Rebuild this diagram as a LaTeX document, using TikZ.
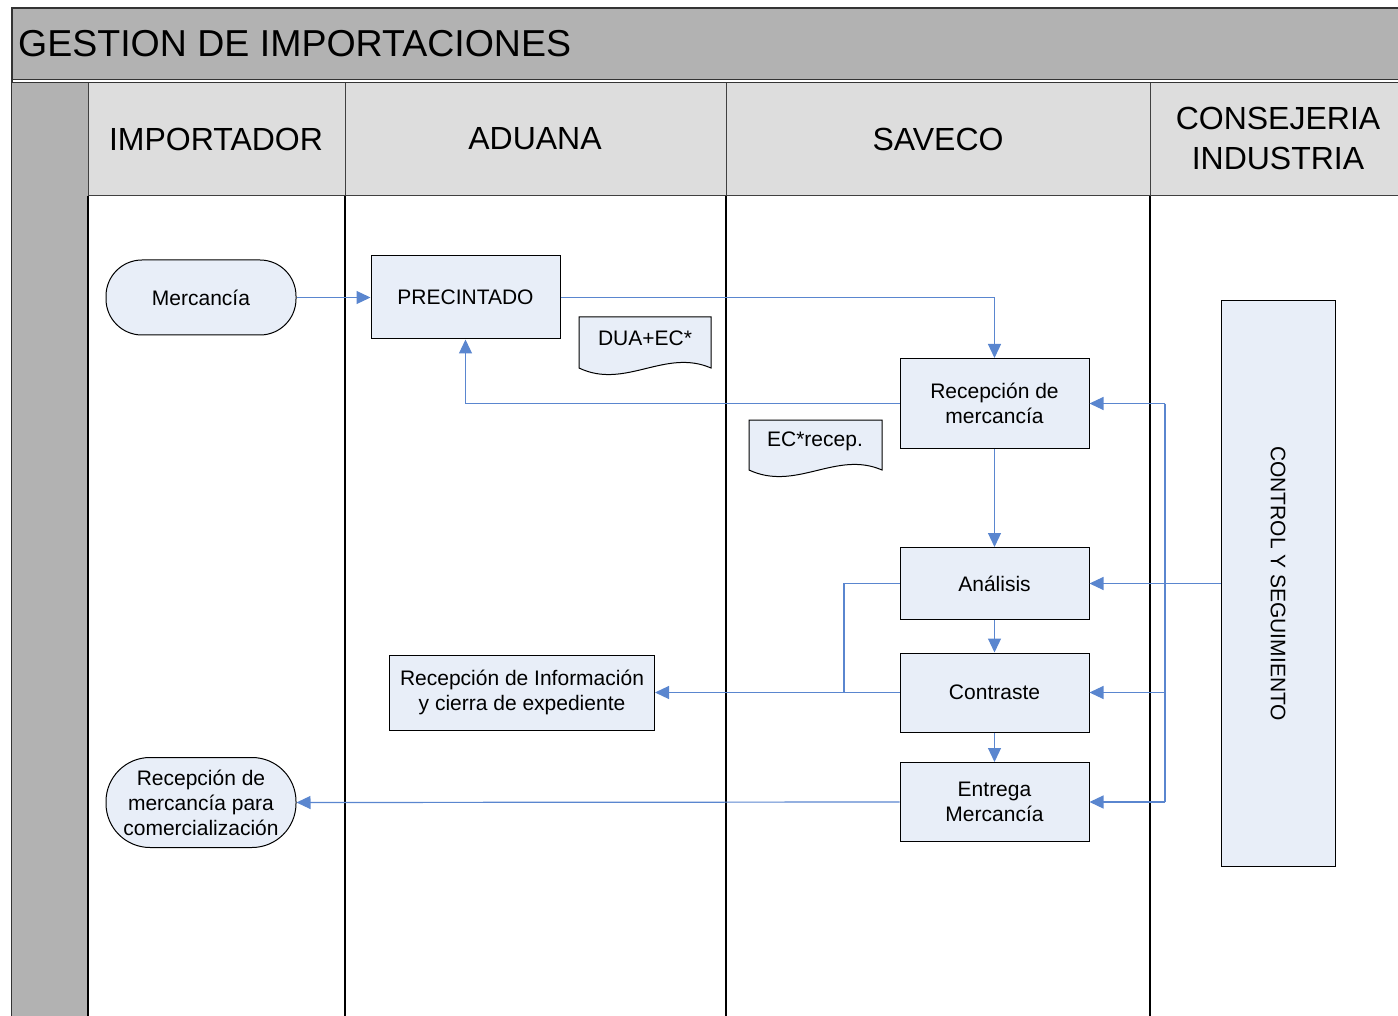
\documentclass[tikz,border=0pt]{standalone}
\usepackage{fontspec}
\setmainfont{Liberation Sans}
\usetikzlibrary{arrows.meta}
\definecolor{bandgray}{HTML}{B2B2B2}
\definecolor{headgray}{HTML}{DDDDDD}
\definecolor{boxfill}{HTML}{E8EEF8}
\definecolor{flow}{HTML}{5A86CF}
\tikzset{
  proc/.style={draw=black, fill=boxfill, line width=1pt, align=center,
    font=\fontsize{21}{25}\selectfont, inner sep=0pt},
  term/.style={proc, rounded corners=36pt},
  doctext/.style={align=center, font=\fontsize{21}{25}\selectfont, inner sep=0pt},
  docshape/.style={draw=black, fill=boxfill, line width=1pt},
  lane/.style={draw=black, line width=1.3pt},
  headtxt/.style={align=center, font=\fontsize{32}{40}\selectfont, inner sep=0pt},
  flowarrow/.style={draw=flow, line width=1.2pt, -{Triangle[length=14pt,width=13pt]}},
  flowplain/.style={draw=flow, line width=1.2pt},
}
\begin{document}
\begin{tikzpicture}[x=1pt,y=-1pt]
\useasboundingbox (0,0) rectangle (1398,1016);
\clip (0,0) rectangle (1398,1016);
% title band
\fill[bandgray] (12,8) rectangle (1410,80);
\draw[line width=1.2pt, black!80] (12,1030) -- (12,8) -- (1410,8);
\draw[line width=1pt, black!80] (12,80) -- (1410,80);
\draw[line width=1pt, black!80] (12,83) -- (1410,83);
\node[anchor=west, inner sep=0pt, font=\fontsize{37.5}{44}\selectfont] (title) at (18,44) {GESTION DE IMPORTACIONES};
% left gray strip and header
\fill[bandgray] (12,83) rectangle (88,1030);
\fill[headgray] (88,83) rectangle (1410,196);
\draw[line width=1pt, black!75] (88,196) -- (1410,196);
\foreach \xx in {88,345,726,1150} {
  \draw[line width=1pt, black!75] (\xx,83) -- (\xx,196);
  \draw[lane] (\xx,196) -- (\xx,1030);
}
\node[headtxt] (h1) at (216,139) {IMPORTADOR};
\node[headtxt] (h2) at (535,139) {ADUANA};
\node[headtxt] (h3) at (938,139) {SAVECO};
\node[headtxt] (h4) at (1278,138) {CONSEJERIA\\INDUSTRIA};

% nodes
\node[term, minimum width=190pt, minimum height=75pt] (merc) at (201,297.5) {Mercancía};
\node[proc, minimum width=189pt, minimum height=83pt] (prec) at (465.5,297.5) {PRECINTADO};
\node[proc, minimum width=189pt, minimum height=90pt] (recm) at (994.5,403.5) {Recepción de\\mercancía};
\node[proc, minimum width=189pt, minimum height=72pt] (anal) at (994.5,583.5) {Análisis};
\node[proc, minimum width=189pt, minimum height=79pt] (contr) at (994.5,692.5) {Contraste};
\node[proc, minimum width=189pt, minimum height=79pt] (entr) at (994.5,802) {Entrega\\Mercancía};
\node[proc, minimum width=265pt, minimum height=75pt] (info) at (522,692.5) {Recepción de Información\\y cierra de expediente};
\node[term, rounded corners=44pt, minimum width=190pt, minimum height=90pt] (term2) at (201,802.5) {Recepción de\\mercancía para\\comercialización};
\node[proc, minimum width=114pt, minimum height=565pt] (ctrl) at (1278,583.5) {};
\node[doctext, rotate=-90] (ctrltxt) at (ctrl.center) {CONTROL Y SEGUIMIENTO};

% documents
\path[docshape] (579,317) -- (711,317) -- (711,368) .. controls (665,348) and (625,390) .. (579,368) -- cycle;
\node[doctext] (dua) at (645,338) {DUA+EC*};
\path[docshape] (749,420) -- (882,420) -- (882,470) .. controls (836,450) and (796,492) .. (749,470) -- cycle;
\node[doctext] (ecr) at (815,441) {EC*recep.};

% connectors
\coordinate (bus) at (1165,583.5);
\coordinate (jn) at (844,692.5);
\draw[flowarrow] (merc.east) -- (prec.west);
\draw[flowarrow] (prec.east) -| (recm.north);
\draw[flowarrow] (recm.west) -| (prec.south);
\draw[flowarrow] (recm.south) -- (anal.north);
\draw[flowarrow] (anal.south) -- (contr.north);
\draw[flowarrow] (contr.south) -- (entr.north);
\draw[flowplain] (anal.west) -| (jn);
\draw[flowarrow] (contr.west) -- (info.east);
\draw[flowarrow] (entr.west) -- (term2.east);
\draw[flowarrow] (ctrl.west) -- (anal.east);
\draw[flowplain] (bus |- recm.east) -- (bus |- entr.east);
\draw[flowarrow] (bus |- recm.east) -- (recm.east);
\draw[flowarrow] (bus |- contr.east) -- (contr.east);
\draw[flowarrow] (bus |- entr.east) -- (entr.east);
\end{tikzpicture}
\end{document}
